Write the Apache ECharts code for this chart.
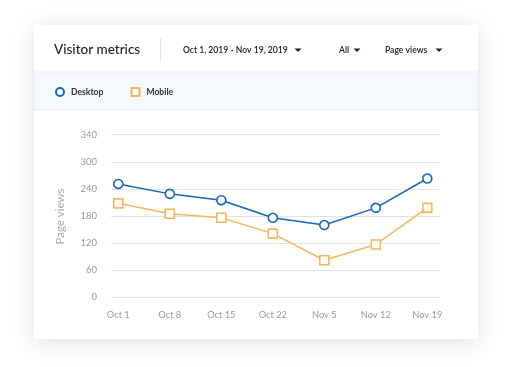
<!DOCTYPE html>
<html><head><meta charset="utf-8">
<script src="https://cdn.jsdelivr.net/npm/echarts@6/dist/echarts.min.js"></script>
<style>html,body{margin:0;padding:0;background:#fff}#c{width:512px;height:367px}</style>
</head><body><div id="c"></div><script>
const categories = ['Oct 1', 'Oct 8', 'Oct 15', 'Oct 22', 'Nov 5', 'Nov 12', 'Nov 19'];
const desktop = [251, 229, 215, 176, 160, 198, 263];
const mobile = [208, 185, 176, 141, 82, 117, 198];
const yTickLabels = ['0', '60', '120', '180', '240', '300', '340'];
const yStep = 60;

const BLUE = '#1565c0';
const ORANGE = '#f6b65c';
const FONT = 'Lato';

const chart = echarts.init(document.getElementById('c'), null, {renderer: 'canvas'});

function caret(x, y) {
  return {type: 'polygon', shape: {points: [[x - 3.5, y - 1.5], [x + 3.5, y - 1.5], [x, y + 2]]},
    style: {fill: '#222'}, z: 10};
}

const option = {
  animation: false,
  backgroundColor: '#fff',
  graphic: [
    {type: 'rect', shape: {x: 34, y: 25, width: 444, height: 314},
      style: {fill: '#fff', shadowBlur: 22, shadowColor: 'rgba(0,0,0,0.13)', shadowOffsetY: 3}, z: -10, silent: true},
    {type: 'rect', shape: {x: 34, y: 72, width: 444, height: 38},
      style: {fill: '#f4f9fd', stroke: '#ececec', lineWidth: 1}, z: -9, silent: true},
    {type: 'line', shape: {x1: 160.5, y1: 38, x2: 160.5, y2: 62}, style: {stroke: '#e6e6e6', lineWidth: 1}, z: 5},
    {type: 'text', x: 54, y: 50, style: {text: 'Visitor metrics', font: '500 13.5px ' + FONT, fill: '#222', verticalAlign: 'middle'}, z: 10},
    {type: 'text', x: 183, y: 50, style: {text: 'Oct 1, 2019 - Nov 19, 2019', font: '600 8.6px ' + FONT, fill: '#222', verticalAlign: 'middle'}, z: 10},
    caret(298, 50),
    {type: 'text', x: 339, y: 50, style: {text: 'All', font: '600 8.6px ' + FONT, fill: '#222', verticalAlign: 'middle'}, z: 10},
    caret(357, 50),
    {type: 'text', x: 385, y: 50, style: {text: 'Page views', font: '600 8.6px ' + FONT, fill: '#222', verticalAlign: 'middle'}, z: 10},
    caret(439, 50),
    {type: 'text', x: 60, y: 216.5, rotation: Math.PI / 2,
      style: {text: 'Page views', font: '11.5px ' + FONT, fill: '#aaa', align: 'center', verticalAlign: 'middle'}, z: 10}
  ],
  legend: {
    left: 55, top: 87, padding: 0, itemWidth: 8, itemHeight: 8, itemGap: 27,
    textStyle: {fontFamily: FONT, fontWeight: 'bold', fontSize: 8.6, color: '#333', padding: [0, 0, 0, 2]},
    data: [
      {name: 'Desktop', icon: 'circle', itemStyle: {color: '#fff', borderColor: BLUE, borderWidth: 2}},
      {name: 'Mobile', icon: 'rect', itemStyle: {color: '#fff', borderColor: ORANGE, borderWidth: 2}}
    ]
  },
  grid: [
    {left: 111, right: 72, top: 134.7, bottom: 69.7},
    {left: 118.3, right: 84.7, top: 134.7, bottom: 69.7}
  ],
  xAxis: [
    {gridIndex: 0, type: 'value', show: false, min: 0, max: 1},
    {gridIndex: 1, type: 'category', data: categories, boundaryGap: false,
      axisLine: {show: false}, axisTick: {show: false},
      axisLabel: {color: '#999', fontFamily: FONT, fontSize: 9.3, margin: 13}}
  ],
  yAxis: [
    {gridIndex: 0, type: 'value', min: 0, max: yStep * (yTickLabels.length - 1), interval: yStep,
      axisLine: {show: false}, axisTick: {show: false},
      axisLabel: {color: '#999', fontFamily: FONT, fontSize: 9.5, margin: 14,
        formatter: v => yTickLabels[Math.round(v / yStep)]},
      splitLine: {lineStyle: {color: '#e2e2e2', width: 1.2}}},
    {gridIndex: 1, type: 'value', min: 0, max: yStep * (yTickLabels.length - 1), show: false, splitLine: {show: false}}
  ],
  series: [
    {name: 'Desktop', type: 'line', xAxisIndex: 1, yAxisIndex: 1, data: desktop,
      symbol: 'circle', symbolSize: 9, showAllSymbol: true,
      lineStyle: {color: BLUE, width: 1.5},
      itemStyle: {color: '#fff', borderColor: BLUE, borderWidth: 1.6}},
    {name: 'Mobile', type: 'line', xAxisIndex: 1, yAxisIndex: 1, data: mobile,
      symbol: 'rect', symbolSize: 9, showAllSymbol: true,
      lineStyle: {color: ORANGE, width: 1.5},
      itemStyle: {color: '#fff', borderColor: ORANGE, borderWidth: 1.6}}
  ]
};
chart.setOption(option);
</script></body></html>
